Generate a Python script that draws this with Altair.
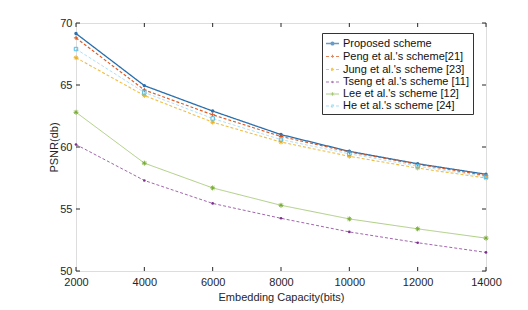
import altair as alt
import pandas as pd

capacity = [2000, 4000, 6000, 8000, 10000, 12000, 14000]
schemes = ["Proposed scheme", "Peng et al.'s scheme[21]", "Jung et al.'s scheme [23]",
           "Tseng et al.'s scheme [11]", "Lee et al.'s scheme [12]", "He et al.'s scheme [24]"]
proposed = [69.15, 64.95, 62.9, 61.0, 59.65, 58.65, 57.8]
peng = [68.8, 64.6, 62.6, 60.85, 59.6, 58.6, 57.7]
jung = [67.2, 64.15, 62.0, 60.4, 59.25, 58.3, 57.5]
tseng = [60.2, 57.3, 55.45, 54.25, 53.15, 52.28, 51.5]
lee = [62.8, 58.7, 56.7, 55.3, 54.2, 53.4, 52.65]
he = [67.9, 64.4, 62.3, 60.6, 59.45, 58.45, 57.6]
x_ticks = [2000, 4000, 6000, 8000, 10000, 12000, 14000]
y_ticks = [50, 55, 60, 65, 70]

colors = ["#2a6fad", "#D95319", "#EDB120", "#7E2F8E", "#77AC30", "#4DBEEE"]
dashes = [[1, 0], [3, 2], [3, 2], [3, 2], [1, 0], [3, 2]]
widths = [1.3, 0.7, 0.7, 0.8, 1.1, 0.7]
opac = [1.0, 0.65, 0.65, 0.7, 1.0, 0.65]

PLUS = "M-1,0L1,0M0,-1L0,1"
STAR = "M-1,0L1,0M0,-1L0,1M-0.7,-0.7L0.7,0.7M-0.7,0.7L0.7,-0.7"
marker_shape = ["circle", PLUS, STAR, "circle", STAR, "square"]
marker_size = [12, 18, 22, 7, 24, 12]
marker_filled = [True, False, False, True, False, False]

# legend symbols: a short line with the marker in the middle
legend_shapes = [
    "M-1,0L1,0M0.22,0A0.22,0.22 0 1,1 -0.22,0A0.22,0.22 0 1,1 0.22,0",
    "M-1,0L1,0M0,-0.25L0,0.25",
    "M-1,0L1,0M0,-0.28L0,0.28M-0.2,-0.2L0.2,0.2M-0.2,0.2L0.2,-0.2",
    "M-1,0L1,0M0.1,0A0.1,0.1 0 1,1 -0.1,0A0.1,0.1 0 1,1 0.1,0",
    "M-1,0L1,0M0,-0.28L0,0.28M-0.2,-0.2L0.2,0.2M-0.2,0.2L0.2,-0.2",
    "M-1,0L1,0M-0.17,-0.17L0.17,-0.17L0.17,0.17L-0.17,0.17Z",
]

rows = []
for name, vals in zip(schemes, [proposed, peng, jung, tseng, lee, he]):
    for c, v in zip(capacity, vals):
        rows.append({"cap": c, "psnr": v, "scheme": name})
df = pd.DataFrame(rows)

W, H = 410, 248
FONT = "Liberation Sans"

xs = alt.Scale(domain=[2000, 14000], nice=False)
ys = alt.Scale(domain=[50, 70], nice=False, zero=False)

leg = alt.Legend(title=None, orient="none", legendX=246, legendY=10,
                 strokeColor="#333333", fillColor="white", padding=3,
                 labelFont=FONT, labelFontSize=11, labelColor="#111111", labelOffset=3,
                 symbolSize=170, symbolStrokeWidth=0.9, rowPadding=0, labelLimit=200)

x_enc = alt.X("cap:Q", scale=xs, axis=alt.Axis(values=x_ticks, title="Embedding Capacity(bits)",
              grid=False, ticks=False, domain=False, labelFont=FONT, labelFontSize=11,
              labelColor="#262626", labelPadding=5, labelFlush=False, titleFont=FONT, titleFontSize=11,
              titleFontWeight="normal", titleColor="#262626", titlePadding=4, format="d"))
y_enc = alt.Y("psnr:Q", scale=ys, axis=alt.Axis(values=y_ticks, title="PSNR(db)",
              grid=False, ticks=False, domain=False, labelFont=FONT, labelFontSize=11,
              labelColor="#262626", labelPadding=4, labelFlush=False, titleFont=FONT, titleFontSize=11,
              titleFontWeight="normal", titleColor="#262626", titlePadding=0))

color = alt.Color("scheme:N", sort=schemes, scale=alt.Scale(domain=schemes, range=colors), legend=leg)
dash = alt.StrokeDash("scheme:N", sort=schemes, scale=alt.Scale(domain=schemes, range=dashes), legend=leg)
shape = alt.Shape("scheme:N", sort=schemes, scale=alt.Scale(domain=schemes, range=legend_shapes), legend=leg)
sw = alt.StrokeWidth("scheme:N", scale=alt.Scale(domain=schemes, range=widths), legend=None)
so = alt.StrokeOpacity("scheme:N", scale=alt.Scale(domain=schemes, range=opac), legend=None)

lines = alt.Chart(df).mark_line().encode(x=x_enc, y=y_enc, color=color, strokeDash=dash,
                                         strokeWidth=sw, strokeOpacity=so)

# legend-only layer (no rows drawn)
legend_layer = alt.Chart(df).mark_point(filled=False).encode(
    x="cap:Q", y="psnr:Q", color=color, strokeDash=dash, shape=shape
).transform_filter("false")

point_layers = []
for name, col, shp, sz, fl in zip(schemes, colors, marker_shape, marker_size, marker_filled):
    point_layers.append(
        alt.Chart(df).transform_filter(alt.datum.scheme == name).mark_point(
            shape=shp, size=sz, filled=fl, color=col, strokeWidth=1.0, opacity=1
        ).encode(x="cap:Q", y="psnr:Q")
    )

xt = pd.DataFrame({"cap": x_ticks})
yt = pd.DataFrame({"psnr": y_ticks})
tick_bottom = alt.Chart(xt).mark_rule(color="#262626").encode(x="cap:Q", y=alt.value(H), y2=alt.value(H - 4))
tick_top = alt.Chart(xt).mark_rule(color="#262626").encode(x="cap:Q", y=alt.value(0), y2=alt.value(4))
tick_left = alt.Chart(yt).mark_rule(color="#262626").encode(y="psnr:Q", x=alt.value(0), x2=alt.value(4))
tick_right = alt.Chart(yt).mark_rule(color="#262626").encode(y="psnr:Q", x=alt.value(W), x2=alt.value(W - 4))

chart = alt.layer(lines, *point_layers, legend_layer, tick_bottom, tick_top, tick_left, tick_right).properties(
    width=W, height=H, autosize=alt.AutoSizeParams(type="none"),
    padding={"left": 68, "top": 15, "right": 30, "bottom": 40},
).configure_view(stroke="#262626", strokeWidth=1).configure(background="white")

chart.save("out.html", embed_options={"renderer": "svg", "actions": False})
